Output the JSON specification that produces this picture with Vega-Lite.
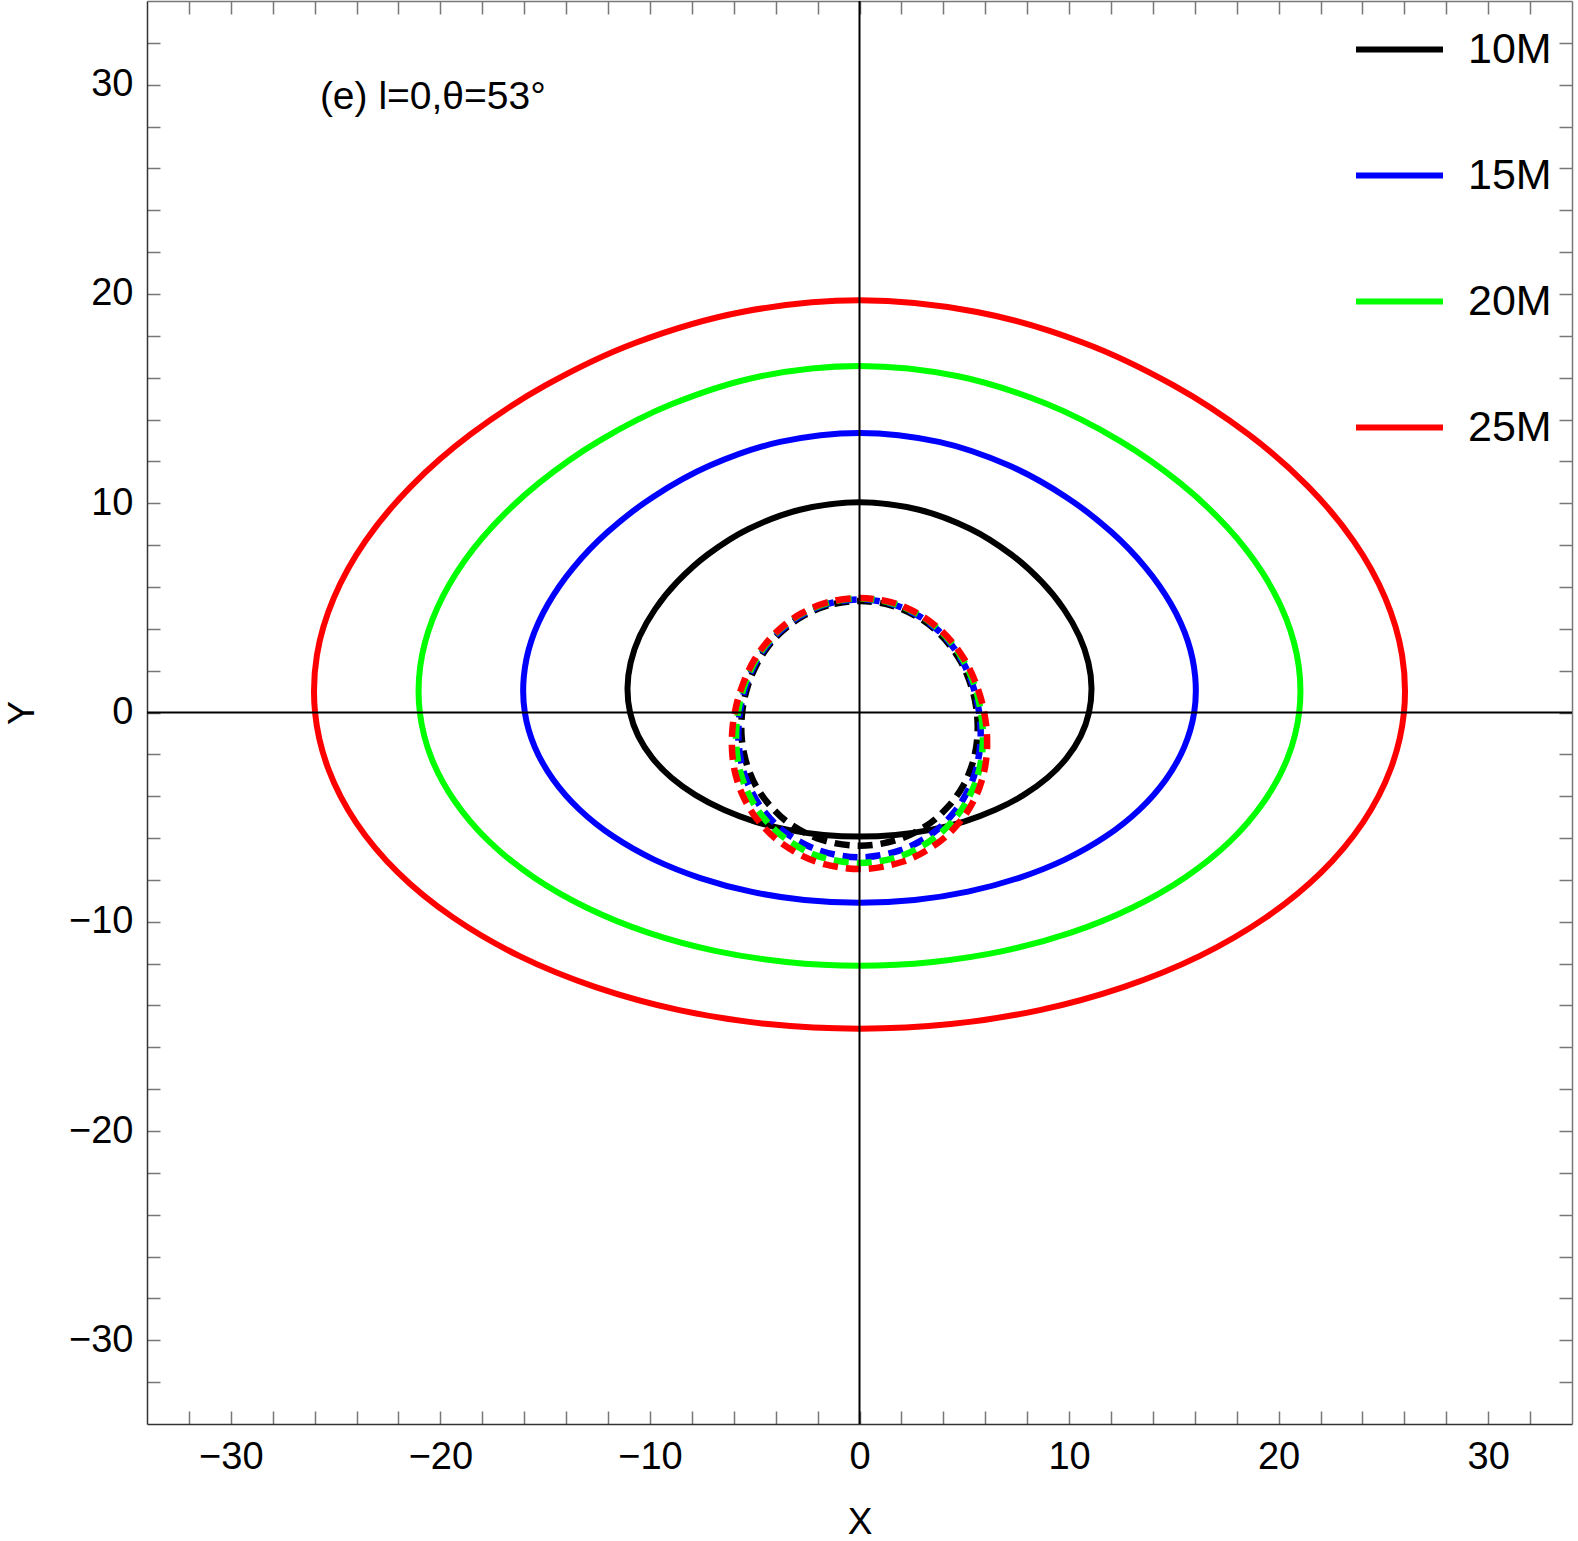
{
  "$schema": "https://vega.github.io/schema/vega-lite/v6.json",
  "width": 1425,
  "height": 1423,
  "autosize": {"type": "none"},
  "padding": {"left": 147, "top": 1, "right": 6, "bottom": 117},
  "background": "white",
  "config": {"font": "Liberation Sans", "view": {"stroke": null}},
  "datasets": {
    "curves": [
      {"s":"10M","k":"p","i":0,"x":0,"y":-5.93},{"s":"10M","k":"p","i":1,"x":1.71,"y":-5.85},{"s":"10M","k":"p","i":2,"x":3.39,"y":-5.61},{"s":"10M","k":"p","i":3,"x":4.99,"y":-5.21},{"s":"10M","k":"p","i":4,"x":6.48,"y":-4.65},{"s":"10M","k":"p","i":5,"x":7.82,"y":-3.95},{"s":"10M","k":"p","i":6,"x":8.97,"y":-3.12},{"s":"10M","k":"p","i":7,"x":9.89,"y":-2.17},{"s":"10M","k":"p","i":8,"x":10.56,"y":-1.12},{"s":"10M","k":"p","i":9,"x":10.95,"y":0},{"s":"10M","k":"p","i":10,"x":11.07,"y":1.18},{"s":"10M","k":"p","i":11,"x":10.92,"y":2.39},{"s":"10M","k":"p","i":12,"x":10.49,"y":3.64},{"s":"10M","k":"p","i":13,"x":9.76,"y":4.93},{"s":"10M","k":"p","i":14,"x":8.70,"y":6.24},{"s":"10M","k":"p","i":15,"x":7.24,"y":7.55},{"s":"10M","k":"p","i":16,"x":5.30,"y":8.77},{"s":"10M","k":"p","i":17,"x":2.84,"y":9.69},{"s":"10M","k":"p","i":18,"x":0,"y":10.05},{"s":"10M","k":"p","i":19,"x":-2.84,"y":9.69},{"s":"10M","k":"p","i":20,"x":-5.30,"y":8.77},{"s":"10M","k":"p","i":21,"x":-7.24,"y":7.55},{"s":"10M","k":"p","i":22,"x":-8.70,"y":6.24},{"s":"10M","k":"p","i":23,"x":-9.76,"y":4.93},{"s":"10M","k":"p","i":24,"x":-10.49,"y":3.64},{"s":"10M","k":"p","i":25,"x":-10.92,"y":2.39},{"s":"10M","k":"p","i":26,"x":-11.07,"y":1.18},{"s":"10M","k":"p","i":27,"x":-10.95,"y":0},{"s":"10M","k":"p","i":28,"x":-10.56,"y":-1.12},{"s":"10M","k":"p","i":29,"x":-9.89,"y":-2.17},{"s":"10M","k":"p","i":30,"x":-8.97,"y":-3.12},{"s":"10M","k":"p","i":31,"x":-7.82,"y":-3.95},{"s":"10M","k":"p","i":32,"x":-6.48,"y":-4.65},{"s":"10M","k":"p","i":33,"x":-4.99,"y":-5.21},{"s":"10M","k":"p","i":34,"x":-3.39,"y":-5.61},{"s":"10M","k":"p","i":35,"x":-1.71,"y":-5.85},

      {"s":"15M","k":"p","i":0,"x":0,"y":-9.09},{"s":"15M","k":"p","i":1,"x":2.63,"y":-8.96},{"s":"15M","k":"p","i":2,"x":5.18,"y":-8.56},{"s":"15M","k":"p","i":3,"x":7.59,"y":-7.91},{"s":"15M","k":"p","i":4,"x":9.80,"y":-7.03},{"s":"15M","k":"p","i":5,"x":11.74,"y":-5.93},{"s":"15M","k":"p","i":6,"x":13.36,"y":-4.64},{"s":"15M","k":"p","i":7,"x":14.62,"y":-3.20},{"s":"15M","k":"p","i":8,"x":15.50,"y":-1.64},{"s":"15M","k":"p","i":9,"x":15.97,"y":0},{"s":"15M","k":"p","i":10,"x":16.02,"y":1.70},{"s":"15M","k":"p","i":11,"x":15.66,"y":3.43},{"s":"15M","k":"p","i":12,"x":14.87,"y":5.17},{"s":"15M","k":"p","i":13,"x":13.67,"y":6.90},{"s":"15M","k":"p","i":14,"x":12.02,"y":8.62},{"s":"15M","k":"p","i":15,"x":9.87,"y":10.29},{"s":"15M","k":"p","i":16,"x":7.14,"y":11.80},{"s":"15M","k":"p","i":17,"x":3.79,"y":12.93},{"s":"15M","k":"p","i":18,"x":0,"y":13.36},{"s":"15M","k":"p","i":19,"x":-3.79,"y":12.93},{"s":"15M","k":"p","i":20,"x":-7.14,"y":11.80},{"s":"15M","k":"p","i":21,"x":-9.87,"y":10.29},{"s":"15M","k":"p","i":22,"x":-12.02,"y":8.62},{"s":"15M","k":"p","i":23,"x":-13.67,"y":6.90},{"s":"15M","k":"p","i":24,"x":-14.87,"y":5.17},{"s":"15M","k":"p","i":25,"x":-15.66,"y":3.43},{"s":"15M","k":"p","i":26,"x":-16.02,"y":1.70},{"s":"15M","k":"p","i":27,"x":-15.97,"y":0},{"s":"15M","k":"p","i":28,"x":-15.50,"y":-1.64},{"s":"15M","k":"p","i":29,"x":-14.62,"y":-3.20},{"s":"15M","k":"p","i":30,"x":-13.36,"y":-4.64},{"s":"15M","k":"p","i":31,"x":-11.74,"y":-5.93},{"s":"15M","k":"p","i":32,"x":-9.80,"y":-7.03},{"s":"15M","k":"p","i":33,"x":-7.59,"y":-7.91},{"s":"15M","k":"p","i":34,"x":-5.18,"y":-8.56},{"s":"15M","k":"p","i":35,"x":-2.63,"y":-8.96},

      {"s":"20M","k":"p","i":0,"x":0,"y":-12.10},{"s":"20M","k":"p","i":1,"x":3.49,"y":-11.92},{"s":"20M","k":"p","i":2,"x":6.89,"y":-11.39},{"s":"20M","k":"p","i":3,"x":10.09,"y":-10.52},{"s":"20M","k":"p","i":4,"x":13.01,"y":-9.33},{"s":"20M","k":"p","i":5,"x":15.57,"y":-7.86},{"s":"20M","k":"p","i":6,"x":17.69,"y":-6.15},{"s":"20M","k":"p","i":7,"x":19.32,"y":-4.23},{"s":"20M","k":"p","i":8,"x":20.43,"y":-2.17},{"s":"20M","k":"p","i":9,"x":20.98,"y":0},{"s":"20M","k":"p","i":10,"x":20.96,"y":2.22},{"s":"20M","k":"p","i":11,"x":20.37,"y":4.46},{"s":"20M","k":"p","i":12,"x":19.23,"y":6.68},{"s":"20M","k":"p","i":13,"x":17.54,"y":8.86},{"s":"20M","k":"p","i":14,"x":15.29,"y":10.97},{"s":"20M","k":"p","i":15,"x":12.44,"y":12.97},{"s":"20M","k":"p","i":16,"x":8.92,"y":14.75},{"s":"20M","k":"p","i":17,"x":4.71,"y":16.07},{"s":"20M","k":"p","i":18,"x":0,"y":16.56},{"s":"20M","k":"p","i":19,"x":-4.71,"y":16.07},{"s":"20M","k":"p","i":20,"x":-8.92,"y":14.75},{"s":"20M","k":"p","i":21,"x":-12.44,"y":12.97},{"s":"20M","k":"p","i":22,"x":-15.29,"y":10.97},{"s":"20M","k":"p","i":23,"x":-17.54,"y":8.86},{"s":"20M","k":"p","i":24,"x":-19.23,"y":6.68},{"s":"20M","k":"p","i":25,"x":-20.37,"y":4.46},{"s":"20M","k":"p","i":26,"x":-20.96,"y":2.22},{"s":"20M","k":"p","i":27,"x":-20.98,"y":0},{"s":"20M","k":"p","i":28,"x":-20.43,"y":-2.17},{"s":"20M","k":"p","i":29,"x":-19.32,"y":-4.23},{"s":"20M","k":"p","i":30,"x":-17.69,"y":-6.15},{"s":"20M","k":"p","i":31,"x":-15.57,"y":-7.86},{"s":"20M","k":"p","i":32,"x":-13.01,"y":-9.33},{"s":"20M","k":"p","i":33,"x":-10.09,"y":-10.52},{"s":"20M","k":"p","i":34,"x":-6.89,"y":-11.39},{"s":"20M","k":"p","i":35,"x":-3.49,"y":-11.92},

      {"s":"25M","k":"p","i":0,"x":0,"y":-15.11},{"s":"25M","k":"p","i":1,"x":4.36,"y":-14.89},{"s":"25M","k":"p","i":2,"x":8.60,"y":-14.22},{"s":"25M","k":"p","i":3,"x":12.59,"y":-13.12},{"s":"25M","k":"p","i":4,"x":16.22,"y":-11.64},{"s":"25M","k":"p","i":5,"x":19.40,"y":-9.79},{"s":"25M","k":"p","i":6,"x":22.02,"y":-7.65},{"s":"25M","k":"p","i":7,"x":24.02,"y":-5.26},{"s":"25M","k":"p","i":8,"x":25.35,"y":-2.69},{"s":"25M","k":"p","i":9,"x":25.98,"y":0},{"s":"25M","k":"p","i":10,"x":25.89,"y":2.75},{"s":"25M","k":"p","i":11,"x":25.08,"y":5.49},{"s":"25M","k":"p","i":12,"x":23.58,"y":8.19},{"s":"25M","k":"p","i":13,"x":21.40,"y":10.81},{"s":"25M","k":"p","i":14,"x":18.55,"y":13.30},{"s":"25M","k":"p","i":15,"x":14.99,"y":15.63},{"s":"25M","k":"p","i":16,"x":10.68,"y":17.67},{"s":"25M","k":"p","i":17,"x":5.61,"y":19.14},{"s":"25M","k":"p","i":18,"x":0,"y":19.70},{"s":"25M","k":"p","i":19,"x":-5.61,"y":19.14},{"s":"25M","k":"p","i":20,"x":-10.68,"y":17.67},{"s":"25M","k":"p","i":21,"x":-14.99,"y":15.63},{"s":"25M","k":"p","i":22,"x":-18.55,"y":13.30},{"s":"25M","k":"p","i":23,"x":-21.40,"y":10.81},{"s":"25M","k":"p","i":24,"x":-23.58,"y":8.19},{"s":"25M","k":"p","i":25,"x":-25.08,"y":5.49},{"s":"25M","k":"p","i":26,"x":-25.89,"y":2.75},{"s":"25M","k":"p","i":27,"x":-25.98,"y":0},{"s":"25M","k":"p","i":28,"x":-25.35,"y":-2.69},{"s":"25M","k":"p","i":29,"x":-24.02,"y":-5.26},{"s":"25M","k":"p","i":30,"x":-22.02,"y":-7.65},{"s":"25M","k":"p","i":31,"x":-19.40,"y":-9.79},{"s":"25M","k":"p","i":32,"x":-16.22,"y":-11.64},{"s":"25M","k":"p","i":33,"x":-12.59,"y":-13.12},{"s":"25M","k":"p","i":34,"x":-8.60,"y":-14.22},{"s":"25M","k":"p","i":35,"x":-4.36,"y":-14.89},

      {"s":"10M","k":"s","i":0,"x":0,"y":5.33},{"s":"10M","k":"s","i":1,"x":-1.50,"y":5.12},{"s":"10M","k":"s","i":2,"x":-2.77,"y":4.57},{"s":"10M","k":"s","i":3,"x":-3.71,"y":3.87},{"s":"10M","k":"s","i":4,"x":-4.37,"y":3.14},{"s":"10M","k":"s","i":5,"x":-4.83,"y":2.44},{"s":"10M","k":"s","i":6,"x":-5.14,"y":1.79},{"s":"10M","k":"s","i":7,"x":-5.36,"y":1.17},{"s":"10M","k":"s","i":8,"x":-5.51,"y":0.58},{"s":"10M","k":"s","i":9,"x":-5.60,"y":0},{"s":"10M","k":"s","i":10,"x":-5.64,"y":-0.60},{"s":"10M","k":"s","i":11,"x":-5.62,"y":-1.23},{"s":"10M","k":"s","i":12,"x":-5.52,"y":-1.92},{"s":"10M","k":"s","i":13,"x":-5.31,"y":-2.68},{"s":"10M","k":"s","i":14,"x":-4.93,"y":-3.53},{"s":"10M","k":"s","i":15,"x":-4.27,"y":-4.45},{"s":"10M","k":"s","i":16,"x":-3.25,"y":-5.37},{"s":"10M","k":"s","i":17,"x":-1.78,"y":-6.09},{"s":"10M","k":"s","i":18,"x":0,"y":-6.37},{"s":"10M","k":"s","i":19,"x":1.78,"y":-6.09},{"s":"10M","k":"s","i":20,"x":3.25,"y":-5.37},{"s":"10M","k":"s","i":21,"x":4.27,"y":-4.45},{"s":"10M","k":"s","i":22,"x":4.93,"y":-3.53},{"s":"10M","k":"s","i":23,"x":5.31,"y":-2.68},{"s":"10M","k":"s","i":24,"x":5.52,"y":-1.92},{"s":"10M","k":"s","i":25,"x":5.62,"y":-1.23},{"s":"10M","k":"s","i":26,"x":5.64,"y":-0.60},{"s":"10M","k":"s","i":27,"x":5.60,"y":0},{"s":"10M","k":"s","i":28,"x":5.51,"y":0.58},{"s":"10M","k":"s","i":29,"x":5.36,"y":1.17},{"s":"10M","k":"s","i":30,"x":5.14,"y":1.79},{"s":"10M","k":"s","i":31,"x":4.83,"y":2.44},{"s":"10M","k":"s","i":32,"x":4.37,"y":3.14},{"s":"10M","k":"s","i":33,"x":3.71,"y":3.87},{"s":"10M","k":"s","i":34,"x":2.77,"y":4.57},{"s":"10M","k":"s","i":35,"x":1.50,"y":5.12},

      {"s":"15M","k":"s","i":0,"x":0,"y":5.40},{"s":"15M","k":"s","i":1,"x":-1.52,"y":5.19},{"s":"15M","k":"s","i":2,"x":-2.80,"y":4.63},{"s":"15M","k":"s","i":3,"x":-3.76,"y":3.92},{"s":"15M","k":"s","i":4,"x":-4.43,"y":3.18},{"s":"15M","k":"s","i":5,"x":-4.90,"y":2.47},{"s":"15M","k":"s","i":6,"x":-5.22,"y":1.81},{"s":"15M","k":"s","i":7,"x":-5.44,"y":1.19},{"s":"15M","k":"s","i":8,"x":-5.60,"y":0.59},{"s":"15M","k":"s","i":9,"x":-5.71,"y":0},{"s":"15M","k":"s","i":10,"x":-5.77,"y":-0.61},{"s":"15M","k":"s","i":11,"x":-5.78,"y":-1.27},{"s":"15M","k":"s","i":12,"x":-5.71,"y":-1.98},{"s":"15M","k":"s","i":13,"x":-5.54,"y":-2.80},{"s":"15M","k":"s","i":14,"x":-5.18,"y":-3.72},{"s":"15M","k":"s","i":15,"x":-4.54,"y":-4.74},{"s":"15M","k":"s","i":16,"x":-3.49,"y":-5.77},{"s":"15M","k":"s","i":17,"x":-1.93,"y":-6.59},{"s":"15M","k":"s","i":18,"x":0,"y":-6.92},{"s":"15M","k":"s","i":19,"x":1.93,"y":-6.59},{"s":"15M","k":"s","i":20,"x":3.49,"y":-5.77},{"s":"15M","k":"s","i":21,"x":4.54,"y":-4.74},{"s":"15M","k":"s","i":22,"x":5.18,"y":-3.72},{"s":"15M","k":"s","i":23,"x":5.54,"y":-2.80},{"s":"15M","k":"s","i":24,"x":5.71,"y":-1.98},{"s":"15M","k":"s","i":25,"x":5.78,"y":-1.27},{"s":"15M","k":"s","i":26,"x":5.77,"y":-0.61},{"s":"15M","k":"s","i":27,"x":5.71,"y":0},{"s":"15M","k":"s","i":28,"x":5.60,"y":0.59},{"s":"15M","k":"s","i":29,"x":5.44,"y":1.19},{"s":"15M","k":"s","i":30,"x":5.22,"y":1.81},{"s":"15M","k":"s","i":31,"x":4.90,"y":2.47},{"s":"15M","k":"s","i":32,"x":4.43,"y":3.18},{"s":"15M","k":"s","i":33,"x":3.76,"y":3.92},{"s":"15M","k":"s","i":34,"x":2.80,"y":4.63},{"s":"15M","k":"s","i":35,"x":1.52,"y":5.19},

      {"s":"20M","k":"s","i":0,"x":0,"y":5.45},{"s":"20M","k":"s","i":1,"x":-1.53,"y":5.23},{"s":"20M","k":"s","i":2,"x":-2.83,"y":4.68},{"s":"20M","k":"s","i":3,"x":-3.80,"y":3.96},{"s":"20M","k":"s","i":4,"x":-4.48,"y":3.21},{"s":"20M","k":"s","i":5,"x":-4.95,"y":2.50},{"s":"20M","k":"s","i":6,"x":-5.28,"y":1.84},{"s":"20M","k":"s","i":7,"x":-5.52,"y":1.21},{"s":"20M","k":"s","i":8,"x":-5.68,"y":0.60},{"s":"20M","k":"s","i":9,"x":-5.80,"y":0},{"s":"20M","k":"s","i":10,"x":-5.87,"y":-0.62},{"s":"20M","k":"s","i":11,"x":-5.89,"y":-1.29},{"s":"20M","k":"s","i":12,"x":-5.84,"y":-2.03},{"s":"20M","k":"s","i":13,"x":-5.68,"y":-2.87},{"s":"20M","k":"s","i":14,"x":-5.33,"y":-3.82},{"s":"20M","k":"s","i":15,"x":-4.69,"y":-4.89},{"s":"20M","k":"s","i":16,"x":-3.61,"y":-5.97},{"s":"20M","k":"s","i":17,"x":-2.01,"y":-6.85},{"s":"20M","k":"s","i":18,"x":0,"y":-7.19},{"s":"20M","k":"s","i":19,"x":2.01,"y":-6.85},{"s":"20M","k":"s","i":20,"x":3.61,"y":-5.97},{"s":"20M","k":"s","i":21,"x":4.69,"y":-4.89},{"s":"20M","k":"s","i":22,"x":5.33,"y":-3.82},{"s":"20M","k":"s","i":23,"x":5.68,"y":-2.87},{"s":"20M","k":"s","i":24,"x":5.84,"y":-2.03},{"s":"20M","k":"s","i":25,"x":5.89,"y":-1.29},{"s":"20M","k":"s","i":26,"x":5.87,"y":-0.62},{"s":"20M","k":"s","i":27,"x":5.80,"y":0},{"s":"20M","k":"s","i":28,"x":5.68,"y":0.60},{"s":"20M","k":"s","i":29,"x":5.52,"y":1.21},{"s":"20M","k":"s","i":30,"x":5.28,"y":1.84},{"s":"20M","k":"s","i":31,"x":4.95,"y":2.50},{"s":"20M","k":"s","i":32,"x":4.48,"y":3.21},{"s":"20M","k":"s","i":33,"x":3.80,"y":3.96},{"s":"20M","k":"s","i":34,"x":2.83,"y":4.68},{"s":"20M","k":"s","i":35,"x":1.53,"y":5.23},

      {"s":"25M","k":"s","i":0,"x":0,"y":5.47},{"s":"25M","k":"s","i":1,"x":-1.54,"y":5.26},{"s":"25M","k":"s","i":2,"x":-2.84,"y":4.70},{"s":"25M","k":"s","i":3,"x":-3.82,"y":3.98},{"s":"25M","k":"s","i":4,"x":-4.52,"y":3.24},{"s":"25M","k":"s","i":5,"x":-5.01,"y":2.53},{"s":"25M","k":"s","i":6,"x":-5.36,"y":1.86},{"s":"25M","k":"s","i":7,"x":-5.61,"y":1.23},{"s":"25M","k":"s","i":8,"x":-5.81,"y":0.62},{"s":"25M","k":"s","i":9,"x":-5.95,"y":0},{"s":"25M","k":"s","i":10,"x":-6.05,"y":-0.64},{"s":"25M","k":"s","i":11,"x":-6.09,"y":-1.33},{"s":"25M","k":"s","i":12,"x":-6.06,"y":-2.11},{"s":"25M","k":"s","i":13,"x":-5.91,"y":-2.98},{"s":"25M","k":"s","i":14,"x":-5.56,"y":-3.99},{"s":"25M","k":"s","i":15,"x":-4.89,"y":-5.10},{"s":"25M","k":"s","i":16,"x":-3.76,"y":-6.22},{"s":"25M","k":"s","i":17,"x":-2.09,"y":-7.12},{"s":"25M","k":"s","i":18,"x":0,"y":-7.48},{"s":"25M","k":"s","i":19,"x":2.09,"y":-7.12},{"s":"25M","k":"s","i":20,"x":3.76,"y":-6.22},{"s":"25M","k":"s","i":21,"x":4.89,"y":-5.10},{"s":"25M","k":"s","i":22,"x":5.56,"y":-3.99},{"s":"25M","k":"s","i":23,"x":5.91,"y":-2.98},{"s":"25M","k":"s","i":24,"x":6.06,"y":-2.11},{"s":"25M","k":"s","i":25,"x":6.09,"y":-1.33},{"s":"25M","k":"s","i":26,"x":6.05,"y":-0.64},{"s":"25M","k":"s","i":27,"x":5.95,"y":0},{"s":"25M","k":"s","i":28,"x":5.81,"y":0.62},{"s":"25M","k":"s","i":29,"x":5.61,"y":1.23},{"s":"25M","k":"s","i":30,"x":5.36,"y":1.86},{"s":"25M","k":"s","i":31,"x":5.01,"y":2.53},{"s":"25M","k":"s","i":32,"x":4.52,"y":3.24},{"s":"25M","k":"s","i":33,"x":3.82,"y":3.98},{"s":"25M","k":"s","i":34,"x":2.84,"y":4.70},{"s":"25M","k":"s","i":35,"x":1.54,"y":5.26}
    ]
  },
  "resolve": {"axis": {"x": "independent", "y": "independent"}},
  "layer": [
    {
      "data": {"name": "curves"},
      "transform": [{"filter": "datum.k === 'p'"}],
      "mark": {"type": "line", "interpolate": "cardinal-closed", "strokeWidth": 6},
      "encoding": {
        "x": {"field": "x", "type": "quantitative", "scale": {"domain": [-34, 34], "nice": false, "zero": false},
          "axis": {"orient": "bottom", "values": [-32,-30,-28,-26,-24,-22,-20,-18,-16,-14,-12,-10,-8,-6,-4,-2,0,2,4,6,8,10,12,14,16,18,20,22,24,26,28,30,32],
            "labelExpr": "datum.value % 10 === 0 ? datum.label : ''", "tickSize": -13, "tickWidth": 1.5, "tickColor": "#777777", "labelPadding": 27, "labelFontSize": 38, "labelColor": "black", "labelFlush": false, "labelOverlap": false, "labelBound": false,
            "domainColor": "#333333", "domainWidth": 1.5, "grid": false, "title": "X", "titleFontSize": 37, "titleFontWeight": "normal", "titleColor": "black", "titlePadding": 28}},
        "y": {"field": "y", "type": "quantitative", "scale": {"domain": [-34, 34], "nice": false, "zero": false},
          "axis": {"orient": "left", "values": [-32,-30,-28,-26,-24,-22,-20,-18,-16,-14,-12,-10,-8,-6,-4,-2,0,2,4,6,8,10,12,14,16,18,20,22,24,26,28,30,32],
            "labelExpr": "datum.value % 10 === 0 ? datum.label : ''", "tickSize": -13, "tickWidth": 1.5, "tickColor": "#777777", "labelPadding": 27, "labelFontSize": 38, "labelColor": "black", "labelFlush": false, "labelOverlap": false, "labelBound": false,
            "domainColor": "#333333", "domainWidth": 1.5, "grid": false, "title": "Y", "titleFontSize": 36, "titleFontWeight": "normal", "titleColor": "black", "titlePadding": 27}},
        "color": {"field": "s", "type": "nominal", "scale": {"domain": ["10M", "15M", "20M", "25M"], "range": ["#000000", "#0000ff", "#00ff00", "#ff0000"]},
          "legend": {"orient": "none", "legendX": 1206, "legendY": 2, "title": null, "symbolType": "stroke", "symbolSize": 7569, "symbolStrokeWidth": 6, "labelFontSize": 43, "labelColor": "black", "labelOffset": 22, "rowPadding": 57, "padding": 0}},
        "order": {"field": "i", "type": "quantitative"}
      }
    },
    {
      "data": {"name": "curves"},
      "transform": [{"filter": "datum.k === 's'"}],
      "mark": {"type": "line", "interpolate": "cardinal-closed", "strokeWidth": 6.5, "strokeDash": [15, 8]},
      "encoding": {
        "x": {"field": "x", "type": "quantitative", "scale": {"domain": [-34, 34], "nice": false, "zero": false}, "axis": null},
        "y": {"field": "y", "type": "quantitative", "scale": {"domain": [-34, 34], "nice": false, "zero": false}, "axis": null},
        "color": {"field": "s", "type": "nominal"},
        "order": {"field": "i", "type": "quantitative"}
      }
    },
    {
      "data": {"values": [{"x": 0}]},
      "mark": {"type": "rule", "color": "black", "strokeWidth": 2},
      "encoding": {"x": {"field": "x", "type": "quantitative", "scale": {"domain": [-34, 34], "nice": false, "zero": false}, "axis": null}}
    },
    {
      "data": {"values": [{"y": 0}]},
      "mark": {"type": "rule", "color": "black", "strokeWidth": 2},
      "encoding": {"y": {"field": "y", "type": "quantitative", "scale": {"domain": [-34, 34], "nice": false, "zero": false}, "axis": null}}
    },
    {
      "data": {"values": [{"x": -25.75, "y": 29.4, "t": "(e) l=0,θ=53°"}]},
      "mark": {"type": "text", "align": "left", "baseline": "middle", "fontSize": 39, "color": "black"},
      "encoding": {
        "x": {"field": "x", "type": "quantitative", "scale": {"domain": [-34, 34], "nice": false, "zero": false},
          "axis": {"orient": "top", "values": [-32,-30,-28,-26,-24,-22,-20,-18,-16,-14,-12,-10,-8,-6,-4,-2,0,2,4,6,8,10,12,14,16,18,20,22,24,26,28,30,32],
            "labels": false, "tickSize": -13, "tickWidth": 1.5, "tickColor": "#777777", "domainColor": "#777777", "domainWidth": 1.5, "grid": false, "title": null}},
        "y": {"field": "y", "type": "quantitative", "scale": {"domain": [-34, 34], "nice": false, "zero": false},
          "axis": {"orient": "right", "values": [-32,-30,-28,-26,-24,-22,-20,-18,-16,-14,-12,-10,-8,-6,-4,-2,0,2,4,6,8,10,12,14,16,18,20,22,24,26,28,30,32],
            "labels": false, "tickSize": -13, "tickWidth": 1.5, "tickColor": "#777777", "domainColor": "#777777", "domainWidth": 1.5, "grid": false, "title": null}},
        "text": {"field": "t", "type": "nominal"}
      }
    }
  ]
}
